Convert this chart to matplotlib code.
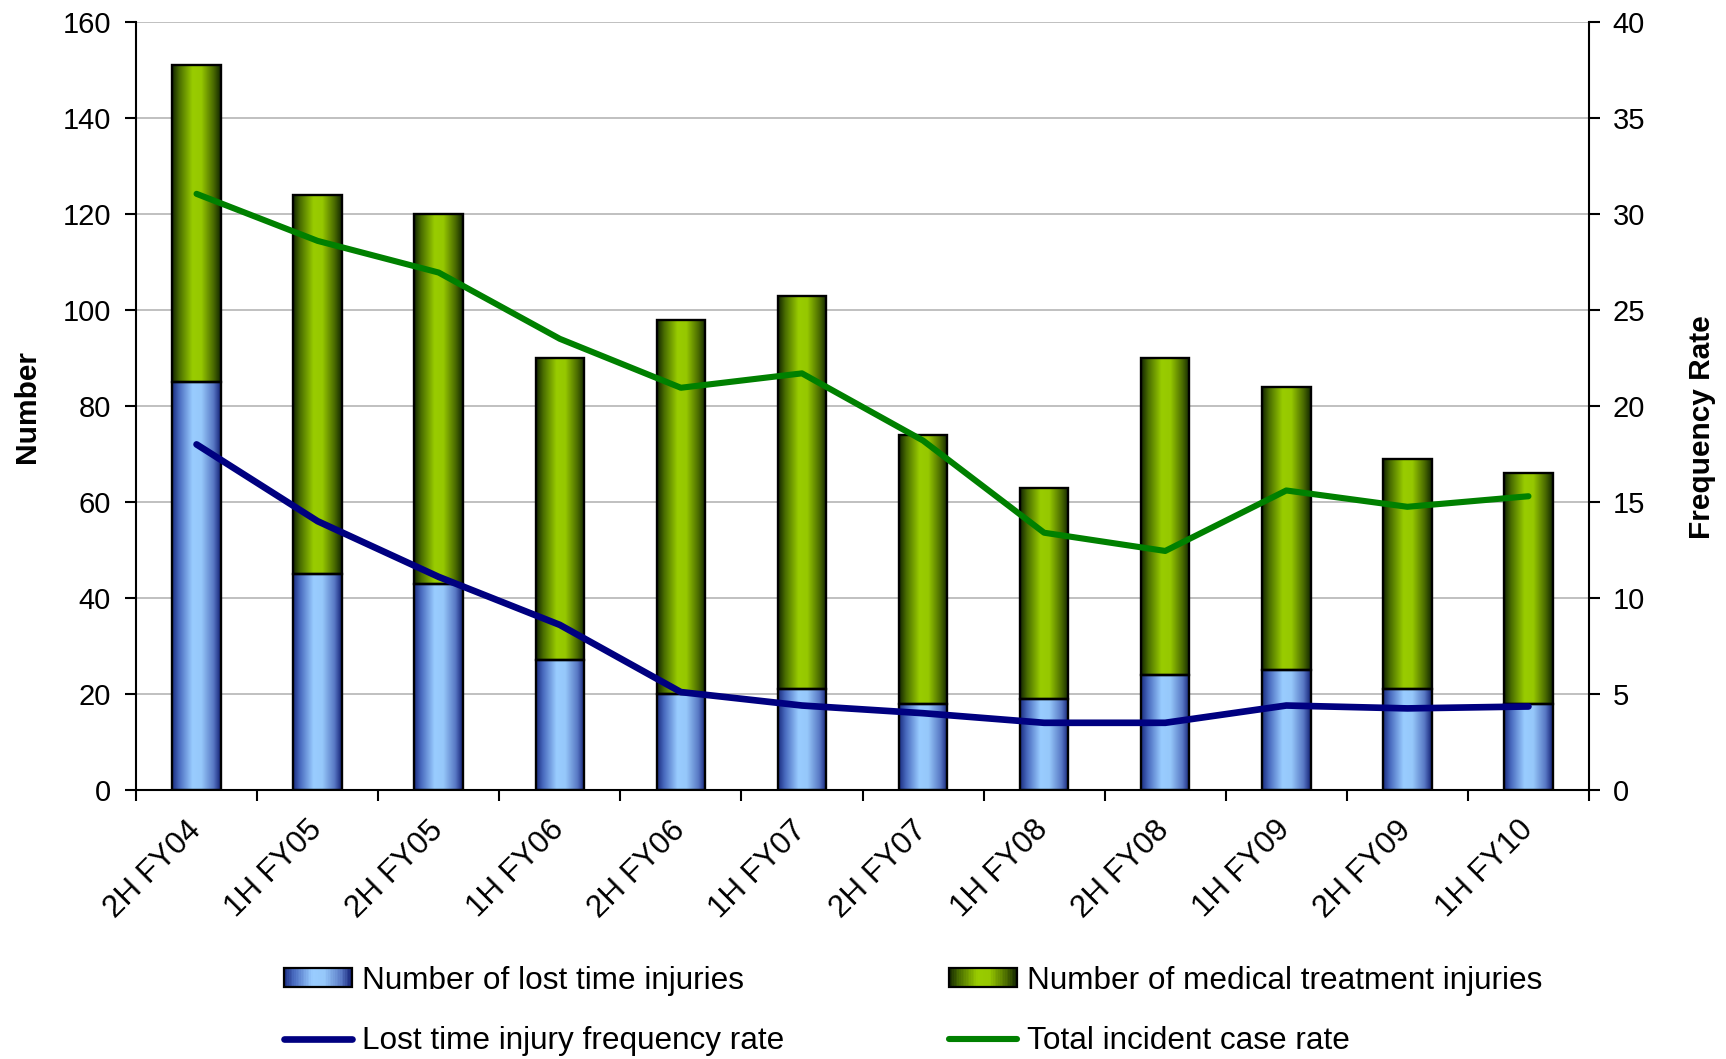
import numpy as np
import matplotlib
matplotlib.use("Agg")
import matplotlib.pyplot as plt
from matplotlib.colors import LinearSegmentedColormap
from matplotlib.patches import Patch, Rectangle
from matplotlib.lines import Line2D
from matplotlib.legend_handler import HandlerBase
import matplotlib.transforms as mtrans

plt.rcParams['font.family'] = ['Liberation Sans', 'DejaVu Sans']

# ---- data ----
periods = ["2H FY04", "1H FY05", "2H FY05", "1H FY06", "2H FY06", "1H FY07",
           "2H FY07", "1H FY08", "2H FY08", "1H FY09", "2H FY09", "1H FY10"]
lost_time_injuries = [85, 45, 43, 27, 20, 21, 18, 19, 24, 25, 21, 18]
medical_treatment_injuries = [66, 79, 77, 63, 78, 82, 56, 44, 66, 59, 48, 48]
lti_frequency_rate = [18.0, 14.0, 11.1, 8.6, 5.1, 4.4, 4.0, 3.5, 3.5, 4.4, 4.25, 4.35]
total_incident_case_rate = [31.05, 28.6, 26.95, 23.5, 20.95, 21.7, 18.2, 13.4, 12.45, 15.6, 14.75, 15.3]

# ---- styles ----
blue_cmap = LinearSegmentedColormap.from_list(
    "blue_bar", [(0.0, "#1a2c80"), (0.15, "#4a6cc0"), (0.42, "#99ccff"),
                 (0.6, "#96c8fa"), (0.85, "#5878c4"), (1.0, "#121f75")])
green_cmap = LinearSegmentedColormap.from_list(
    "green_bar", [(0.0, "#122400"), (0.15, "#4a6e00"), (0.42, "#99cc00"),
                  (0.6, "#96c800"), (0.85, "#4a6a00"), (1.0, "#122600")])
ltifr_color = "#000080"
ticr_color = "#008000"
YTICK_FS = 21
XTICK_FS = 22.5
LEGEND_FS = 22.7
LABEL_FS = 21.5


class GradientHandler(HandlerBase):
    """Legend key drawn as vertical stripes sampled from a colormap."""

    def __init__(self, cmap, n=40, **kw):
        super().__init__(**kw)
        self.cmap = cmap
        self.n = n

    def create_artists(self, legend, orig_handle, xdescent, ydescent,
                       width, height, fontsize, trans):
        arts = []
        w = width / self.n
        for i in range(self.n):
            c = self.cmap((i + 0.5) / self.n)
            arts.append(Rectangle((-xdescent + i * w, -ydescent), w * 1.05, height,
                                  facecolor=c, edgecolor="none", transform=trans))
        arts.append(Rectangle((-xdescent, -ydescent), width, height,
                              facecolor="none", edgecolor="black", linewidth=1.6,
                              transform=trans))
        return arts


fig = plt.figure(figsize=(17.26, 10.59), dpi=100)
ax = fig.add_axes([136 / 1726, 1 - 790 / 1059, 1453 / 1726, 768 / 1059])
ax2 = ax.twinx()

x = np.arange(len(periods))
bar_w = 0.4

lost_bars = ax.bar(x, lost_time_injuries, bar_w, facecolor="none",
                   edgecolor="black", linewidth=1.7, zorder=3)
med_bars = ax.bar(x, medical_treatment_injuries, bar_w,
                  bottom=lost_time_injuries, facecolor="none",
                  edgecolor="black", linewidth=1.7, zorder=3)

grad = np.linspace(0, 1, 256).reshape(1, -1)
for bars, cmap in ((lost_bars, blue_cmap), (med_bars, green_cmap)):
    for p in bars:
        x0, y0 = p.get_x(), p.get_y()
        im = ax.imshow(grad, cmap=cmap, aspect="auto", interpolation="bilinear",
                       extent=(x0, x0 + p.get_width(), y0, y0 + p.get_height()),
                       zorder=2)
        im.set_clip_path(p)

ax.set_xlim(-0.5, len(periods) - 0.5)
ax.set_ylim(0, 160)
ax.set_yticks(np.arange(0, 161, 20))
ax.grid(axis="y", color="#c0c0c0", linewidth=1.4, zorder=0)
ax.set_axisbelow(True)

# category boundaries carry the tick marks, centres carry the labels
ax.set_xticks(np.arange(-0.5, len(periods), 1.0))
ax.set_xticklabels([])
ax.set_xticks(x, minor=True)
ax.set_xticklabels(periods, minor=True, rotation=45, ha="right", va="top",
                   rotation_mode="anchor", fontsize=XTICK_FS)
ax.tick_params(axis="x", which="major", length=8, width=1.5, direction="out")
ax.tick_params(axis="x", which="minor", length=0, pad=18)
shift = mtrans.ScaledTranslation(-11 / 100, 0, fig.dpi_scale_trans)
for lbl in ax.get_xticklabels(minor=True):
    lbl.set_transform(lbl.get_transform() + shift)

ax.tick_params(axis="y", length=8, width=1.5, labelsize=YTICK_FS, pad=10)
for side in ("left", "bottom"):
    ax.spines[side].set_linewidth(1.5)
ax.spines["top"].set_visible(False)
ax.spines["right"].set_visible(False)

ax2.plot(x, lti_frequency_rate, color=ltifr_color, linewidth=4.8,
         solid_capstyle="round", solid_joinstyle="round", zorder=4)
ax2.plot(x, total_incident_case_rate, color=ticr_color, linewidth=4.4,
         solid_capstyle="round", solid_joinstyle="round", zorder=4)
ax2.set_ylim(0, 40)
ax2.set_yticks(np.arange(0, 41, 5))
ax2.tick_params(axis="y", length=8, width=1.5, labelsize=YTICK_FS, pad=9)
ax2.spines["right"].set_linewidth(1.5)
for side in ("left", "top", "bottom"):
    ax2.spines[side].set_visible(False)

ax.set_ylabel("Number", fontsize=LABEL_FS, fontweight="bold")
ax.yaxis.set_label_coords(-0.0656, 0.499)
ax2.set_ylabel("Frequency Rate", fontsize=LABEL_FS, fontweight="bold")
ax2.yaxis.set_label_coords(1.0678, 0.473)

# ---- legend: two columns, placed separately ----
h_lost = Patch(label="Number of lost time injuries")
h_med = Patch(label="Number of medical treatment injuries")
h_ltifr = Line2D([], [], color=ltifr_color, linewidth=4.8,
                 solid_capstyle="round", label="Lost time injury frequency rate")
h_ticr = Line2D([], [], color=ticr_color, linewidth=4.4,
                solid_capstyle="round", label="Total incident case rate")

common = dict(frameon=False, fontsize=LEGEND_FS, loc="center left", borderpad=0,
              borderaxespad=0, handlelength=2.15, handleheight=0.58,
              handletextpad=0.32, labelspacing=0.97)
fig.legend(handles=[h_lost, h_ltifr], bbox_to_anchor=(284 / 1726, 1 - 1011 / 1059),
           handler_map={h_lost: GradientHandler(blue_cmap)}, **common)
fig.legend(handles=[h_med, h_ticr], bbox_to_anchor=(949 / 1726, 1 - 1011 / 1059),
           handler_map={h_med: GradientHandler(green_cmap)}, **common)

fig.savefig("out.png", dpi=100)
